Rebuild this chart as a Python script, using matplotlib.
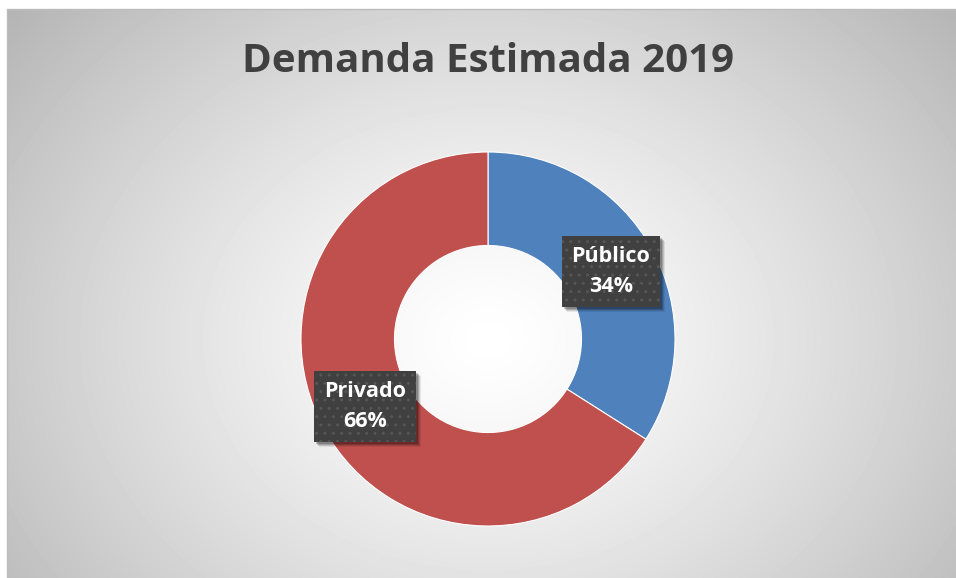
import numpy as np
import matplotlib.pyplot as plt
from matplotlib.patches import Rectangle
from matplotlib.transforms import IdentityTransform

# Data
categories = ['Público', 'Privado']
shares = [34, 66]
colors = ['#4F81BD', '#C0504D']
title = 'Demanda Estimada 2019'

W, H = 956, 578
fig = plt.figure(figsize=(W / 100, H / 100), dpi=100)
fig.patch.set_facecolor('white')

# Background: radial gradient inside the chart area
bg = fig.add_axes([7 / W, 0, (W - 7) / W, (H - 9) / H])
yy, xx = np.mgrid[0:H - 9, 0:W - 7]
cx, cy = 481, 330
d = np.sqrt(((xx - cx) / 520.0) ** 2 + ((yy - cy) / 420.0) ** 2)
val = 1.0 - 0.23 * np.clip(d, 0, 1.2) ** 1.3
bg.imshow(val, cmap='gray', vmin=0, vmax=1, aspect='auto',
          interpolation='bilinear', origin='upper')
bg.set_axis_off()

# Thin frame line on top and left
fig.add_artist(Rectangle((7 / W, -0.01), 1.1, (H - 9) / H + 0.01,
                         transform=fig.transFigure, fill=False,
                         edgecolor='#bdbdbd', linewidth=1))

# Donut
R = 187
cxp, cyp = 488, 339
ax = fig.add_axes([(cxp - R) / W, (H - cyp - R) / H, 2 * R / W, 2 * R / H])
ax.pie(shares, colors=colors, startangle=90, counterclock=False,
       radius=1, wedgeprops=dict(width=0.5, edgecolor='white', linewidth=0.8))
ax.set_xlim(-1, 1)
ax.set_ylim(-1, 1)
ax.set_axis_off()

# Data labels in dark boxes
cum = np.cumsum([0] + shares)
labels = []
for i, (cat, s) in enumerate(zip(categories, shares)):
    mid = np.deg2rad(90 - 3.6 * (cum[i] + s / 2))
    x, y = 0.75 * np.cos(mid), 0.75 * np.sin(mid)
    t = ax.text(x, y, f'{cat}\n{s}%', ha='center', va='center',
                fontsize=15.5, fontweight='bold', family='Open Sans',
                linespacing=1.6, color='white', zorder=4,
                bbox=dict(boxstyle='square,pad=0.45', facecolor='#404040',
                          edgecolor='#565656', linewidth=0, hatch='..'))
    labels.append(t)

# Soft shadow behind each label box
fig.canvas.draw()
for t in labels:
    bb = t.get_bbox_patch().get_window_extent()
    for k, a in [(5, 0.08), (4, 0.12), (3, 0.16), (2, 0.2)]:
        ax.add_patch(Rectangle((bb.x0 + k, bb.y0 - k), bb.width, bb.height,
                               transform=IdentityTransform(), facecolor='black',
                               alpha=a, linewidth=0, zorder=3, clip_on=False))

fig.text(488 / W, 1 - 62 / H, title, ha='center', va='center',
         fontsize=29, fontweight='bold', color='#404040', family='Open Sans')

fig.savefig('out.png', dpi=100)
